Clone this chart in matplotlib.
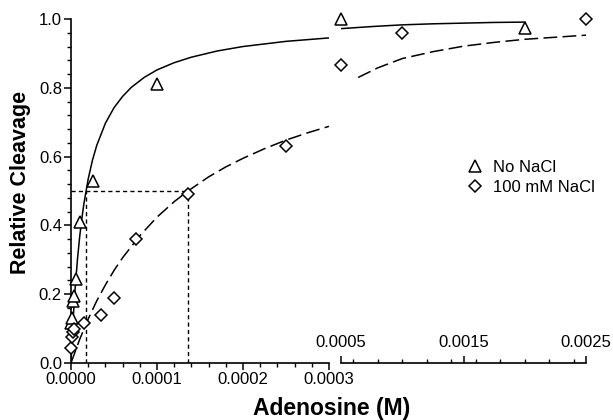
import numpy as np
import matplotlib
matplotlib.use('Agg')
import matplotlib.pyplot as plt
from matplotlib.lines import Line2D
from matplotlib.ticker import MultipleLocator, FixedLocator

plt.rcParams['font.family'] = ['Liberation Sans', 'DejaVu Sans']

# measured points (adenosine in M, relative cleavage)
tri_x = [0, 1e-6, 2e-6, 3e-6, 6e-6, 1e-5, 2.6e-5, 1.0e-4, 5e-4, 2e-3]
tri_y = [0.115, 0.13, 0.18, 0.195, 0.245, 0.41, 0.53, 0.81, 1.0, 0.975]
dia_x = [0, 1e-6, 2e-6, 4e-6, 1.5e-5, 3.5e-5, 5e-5, 7.6e-5, 1.36e-4, 2.5e-4, 5e-4, 1e-3, 2.5e-3]
dia_y = [0.045, 0.075, 0.09, 0.10, 0.115, 0.14, 0.19, 0.36, 0.49, 0.63, 0.865, 0.96, 1.0]

# fitted curves
fit1_x = [0, 1e-6, 2e-6, 3.5e-6, 5e-6, 7.5e-6, 1e-5, 1.25e-5, 1.5e-5, 2e-5, 2.5e-5, 3e-5, 4e-5,
          5e-5, 6e-5, 7e-5, 8.5e-5, 1e-4, 1.2e-4, 1.4e-4, 1.7e-4, 2e-4, 2.5e-4, 3e-4]
fit1_y = [0, 0.054, 0.103, 0.168, 0.223, 0.301, 0.365, 0.418, 0.463, 0.535, 0.590, 0.633, 0.697,
          0.742, 0.775, 0.801, 0.830, 0.852, 0.873, 0.889, 0.907, 0.920, 0.935, 0.945]
fit1r_x = [5e-4, 7.5e-4, 1e-3, 1.25e-3, 1.5e-3, 1.75e-3, 2e-3]
fit1r_y = [0.972, 0.978, 0.983, 0.986, 0.988, 0.990, 0.991]
fit2_x = [0, 1e-5, 2e-5, 3e-5, 4e-5, 5e-5, 6e-5, 8e-5, 1e-4, 1.2e-4, 1.36e-4, 1.6e-4,
          1.8e-4, 2e-4, 2.25e-4, 2.5e-4, 2.75e-4, 3e-4]
fit2_y = [0, 0.068, 0.128, 0.181, 0.227, 0.269, 0.306, 0.370, 0.424, 0.469, 0.500, 0.541,
          0.570, 0.595, 0.623, 0.648, 0.669, 0.688]
fit2r_x = [6.4e-4, 8e-4, 1e-3, 1.25e-3, 1.5e-3, 1.75e-3, 2e-3, 2.25e-3, 2.5e-3]
fit2r_y = [0.83, 0.858, 0.885, 0.905, 0.921, 0.932, 0.941, 0.947, 0.953]

# half-maximal guide lines
kd_no = 1.74e-5
kd_na = 1.36e-4

left_ticks = [0, 1e-4, 2e-4, 3e-4]
left_labels = ['0.0000', '0.0001', '0.0002', '0.0003']
right_ticks = [5e-4, 1.5e-3, 2.5e-3]
right_labels = ['0.0005', '0.0015', '0.0025']

fig = plt.figure(figsize=(6.13, 4.2), dpi=100)
ax1 = fig.add_axes([71/613, 57/420, 258/613, 344/420])
ax2 = fig.add_axes([341/613, 57/420, 245/613, 344/420], sharey=ax1)

for ax in (ax1, ax2):
    ax.set_facecolor('none')
    for s in ['top', 'right']:
        ax.spines[s].set_visible(False)
    ax.spines['bottom'].set_linewidth(1.2)
ax2.spines['left'].set_visible(False)
ax1.spines['left'].set_linewidth(1.2)

tri_x = np.array(tri_x); tri_y = np.array(tri_y)
dia_x = np.array(dia_x); dia_y = np.array(dia_y)

mk_tri = dict(marker='^', ms=9, mfc='white', mec='black', mew=1.1, ls='none', clip_on=False, zorder=5)
mk_dia = dict(marker='D', ms=6.5, mfc='white', mec='black', mew=1.1, ls='none', clip_on=False, zorder=5)
dash = (0, (9, 3.5))
dot = (0, (3, 2.3))

# left segment
ax1.plot(fit1_x, fit1_y, color='black', lw=1.1, zorder=3)
ax1.plot(fit2_x, fit2_y, color='black', lw=1.1, ls=dash, zorder=3)
ax1.plot([0, kd_na], [0.5, 0.5], color='black', lw=1.0, ls=dot)
ax1.plot([kd_no, kd_no], [0, 0.5], color='black', lw=1.0, ls=dot)
ax1.plot([kd_na, kd_na], [0, 0.5], color='black', lw=1.0, ls=dot)
m = tri_x <= 3e-4
ax1.plot(tri_x[m], tri_y[m], **mk_tri)
m = dia_x <= 3e-4
ax1.plot(dia_x[m], dia_y[m], **mk_dia)

ax1.set_xlim(0, 3e-4)
ax1.set_ylim(0, 1.0)
ax1.xaxis.set_major_locator(FixedLocator(left_ticks))
ax1.set_xticklabels(left_labels)
ax1.xaxis.set_minor_locator(MultipleLocator(2e-5))
ax1.yaxis.set_major_locator(MultipleLocator(0.2))
ax1.yaxis.set_minor_locator(MultipleLocator(0.04))
ax1.yaxis.set_major_formatter(plt.FormatStrFormatter('%.1f'))
ax1.tick_params(which='major', length=5, width=1.1, labelsize=12, pad=1.5)
ax1.tick_params(which='minor', length=3, width=1.0)

# right segment
ax2.plot(fit1r_x, fit1r_y, color='black', lw=1.1, zorder=3)
ax2.plot(fit2r_x, fit2r_y, color='black', lw=1.1, ls=dash, zorder=3)
m = tri_x > 3e-4
ax2.plot(tri_x[m], tri_y[m], **mk_tri)
m = dia_x > 3e-4
ax2.plot(dia_x[m], dia_y[m], **mk_dia)
ax2.set_xlim(5e-4, 2.5e-3)
ax2.xaxis.set_major_locator(FixedLocator(right_ticks))
ax2.set_xticklabels(right_labels)
ax2.xaxis.set_minor_locator(MultipleLocator(2e-4))
ax2.tick_params(axis='x', which='major', direction='in', length=5, width=1.1, labelsize=12, pad=-20)
ax2.tick_params(axis='x', which='minor', direction='in', length=3, width=1.0)
ax2.tick_params(axis='y', which='both', left=False, labelleft=False)

fig.text(21/613, 1 - 182/420, 'Relative Cleavage', rotation=90, fontsize=15.5,
         fontweight='bold', ha='center', va='center')
fig.text(332/613, 1 - 408/420, 'Adenosine (M)', fontsize=16.5,
         fontweight='bold', ha='center', va='center')

handles = [Line2D([], [], **{k: v for k, v in mk_tri.items() if k not in ('clip_on', 'zorder')}),
           Line2D([], [], **{k: v for k, v in mk_dia.items() if k not in ('clip_on', 'zorder')})]
fig.legend(handles, ['No NaCl', '100 mM NaCl'], loc='upper left',
           bbox_to_anchor=(468/613, 1 - 160/420), frameon=False, fontsize=12,
           handlelength=0.9, handletextpad=0.6, labelspacing=0.3,
           borderpad=0, borderaxespad=0)

fig.savefig('out.png', dpi=100)
